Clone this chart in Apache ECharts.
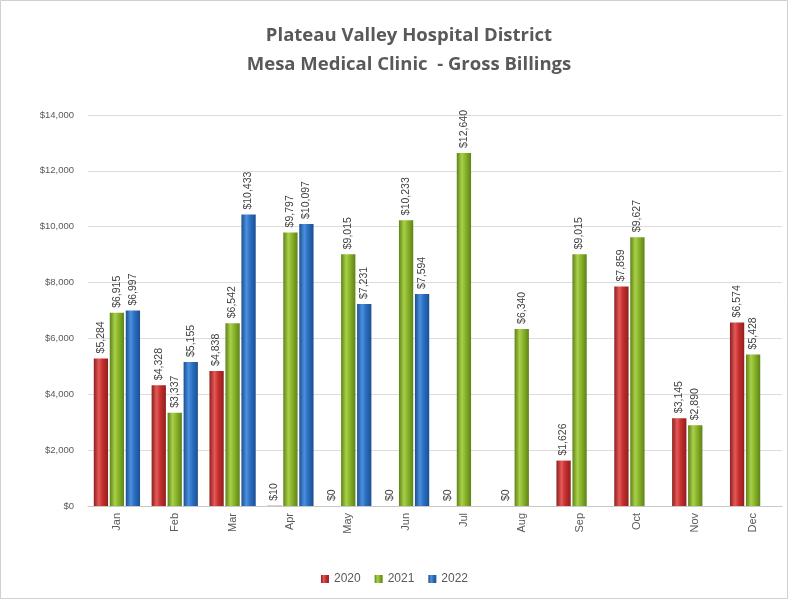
<!DOCTYPE html>
<html>
<head>
<meta charset="utf-8">
<script src="https://cdn.jsdelivr.net/npm/echarts@6/dist/echarts.min.js"></script>
<style>
    html, body { margin: 0; padding: 0; background: #fff; }
    #main { width: 789px; height: 600px; }
</style>
</head>
<body>
<div id="main"></div>
<script type="text/javascript">
    // 数据
    var months = ['Jan', 'Feb', 'Mar', 'Apr', 'May', 'Jun', 'Jul', 'Aug', 'Sep', 'Oct', 'Nov', 'Dec'];
    var years = ['2020', '2021', '2022'];
    var data2020 = [5284, 4328, 4838, 10, 0, 0, 0, 0, 1626, 7859, 3145, 6574];
    var data2021 = [6915, 3337, 6542, 9797, 9015, 10233, 12640, 6340, 9015, 9627, 2890, 5428];
    var data2022 = [6997, 5155, 10433, 10097, 7231, 7594, null, null, null, null, null, null];

    // 圆柱效果的横向渐变
    function tube(edge, mid, light) {
        return new echarts.graphic.LinearGradient(0, 0, 1, 0, [
            { offset: 0, color: edge },
            { offset: 0.35, color: light },
            { offset: 0.6, color: mid },
            { offset: 1, color: edge }
        ]);
    }

    function money(v) {
        return '$' + v.toLocaleString('en-US');
    }

    function makeSeries(name, values, colors) {
        return {
            name: name,
            type: 'bar',
            data: values,
            barGap: '12%',
            barCategoryGap: '20%',
            itemStyle: { color: tube(colors[0], colors[1], colors[2]) },
            label: {
                show: true,
                position: 'top',
                rotate: 90,
                align: 'left',
                verticalAlign: 'middle',
                distance: 5,
                color: '#404040',
                fontSize: 10.5,
                fontFamily: 'Liberation Sans',
                formatter: function (p) {
                    return p.value == null ? '' : money(p.value);
                }
            }
        };
    }

    var myChart = echarts.init(document.getElementById('main'));

    var option = {
        backgroundColor: '#fff',
        animation: false,
        color: ['#c8302f', '#8ab52a', '#2b70c2'],
        title: {
            text: 'Plateau Valley Hospital District\nMesa Medical Clinic  - Gross Billings',
            left: 404,
            top: 16,
            textAlign: 'center',
            textStyle: {
                fontFamily: 'Open Sans',
                fontWeight: 'bold',
                fontSize: 18.5,
                lineHeight: 29,
                color: '#595959'
            }
        },
        legend: {
            data: years,
            left: 'center',
            top: 568,
            itemWidth: 8,
            itemHeight: 8,
            itemGap: 14,
            icon: 'rect',
            textStyle: { color: '#595959', fontSize: 12, fontFamily: 'Liberation Sans' }
        },
        grid: { left: 88, right: 7, top: 115, bottom: 94 },
        xAxis: {
            type: 'category',
            data: months,
            axisLine: { lineStyle: { color: '#c8c8c8' } },
            axisTick: { show: false },
            axisLabel: {
                rotate: 90,
                margin: 7,
                color: '#595959',
                fontSize: 11,
                fontFamily: 'Liberation Sans'
            }
        },
        yAxis: {
            type: 'value',
            min: 0,
            max: 14000,
            interval: 2000,
            axisLine: { show: false },
            axisTick: { show: false },
            splitLine: { lineStyle: { color: '#dcdcdc' } },
            axisLabel: {
                margin: 14,
                color: '#595959',
                fontSize: 9.5,
                fontFamily: 'Liberation Sans',
                formatter: function (v) { return money(v); }
            }
        },
        series: [
            makeSeries('2020', data2020, ['#8e1e1e', '#c8302f', '#e25a58']),
            makeSeries('2021', data2021, ['#5e8218', '#8ab52a', '#a9d04a']),
            makeSeries('2022', data2022, ['#1b4f91', '#2b70c2', '#4c90de'])
        ],
        graphic: [{
            type: 'rect',
            shape: { x: 0.5, y: 0.5, width: 787, height: 598 },
            style: { fill: 'none', stroke: '#d0d0d0', lineWidth: 1 },
            silent: true
        }]
    };

    myChart.setOption(option);
</script>
</body>
</html>
